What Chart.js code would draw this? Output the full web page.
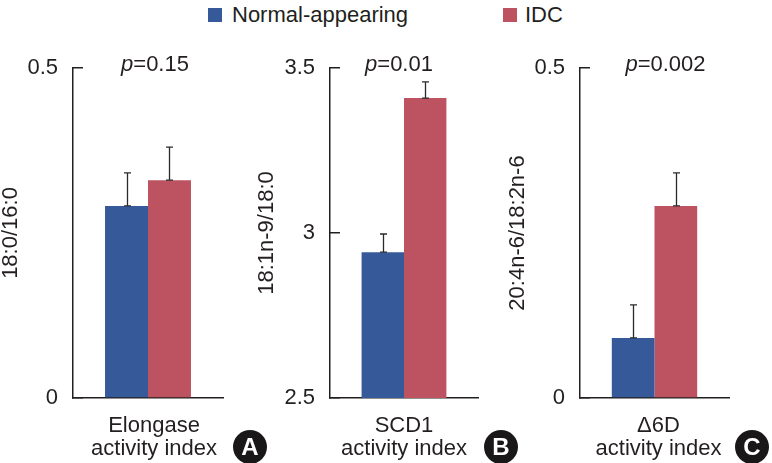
<!DOCTYPE html>
<html><head><meta charset="utf-8">
<script src="https://cdn.jsdelivr.net/npm/chart.js@4.4.1/dist/chart.umd.min.js"></script>
<style>
html,body{margin:0;padding:0;background:#fff;}
#wrap{position:relative;width:772px;height:463px;overflow:hidden;background:#fff;
 font-family:"Liberation Sans",Arial,sans-serif;color:#231f20;}
canvas{position:absolute;top:0;}
.sw{position:absolute;width:14px;height:14px;top:8px;}
.lt{position:absolute;top:0;font-size:22px;line-height:29px;white-space:nowrap;}
</style></head><body>
<div id="wrap">
  <div class="sw" id="sw0"></div><div class="lt" id="lt0"></div>
  <div class="sw" id="sw1"></div><div class="lt" id="lt1"></div>
  <canvas id="c0" width="275" height="463" style="left:0px"></canvas>
  <canvas id="c1" width="270" height="463" style="left:250px"></canvas>
  <canvas id="c2" width="267" height="463" style="left:505px"></canvas>
</div>
<script>
// ---- data ----
const seriesNames = ["Normal-appearing", "IDC"];
const categories = [["Elongase", "activity index"], ["SCD1", "activity index"], ["\u03946D", "activity index"]];
const yTitles = ["18:0/16:0", "18:1n-9/18:0", "20:4n-6/18:2n-6"];
const normalValues = [0.291, 2.942, 0.091];
const idcValues = [0.330, 3.409, 0.291];
const normalErrors = [0.050, 0.055, 0.050];
const idcErrors = [0.050, 0.049, 0.050];
const pValues = ["0.15", "0.01", "0.002"];
const panelLetters = ["A", "B", "C"];
const yTickValues = [[0, 0.5], [2.5, 3, 3.5], [0, 0.5]];

// ---- style / layout ----
const COLORS = ["#36599a", "#bd5261"];
const TEXT = "#231f20";
const AXIS = "#231f20";
const FONT = '"Liberation Sans",Arial,sans-serif';
const FS = 22;
const layouts = [
  {yWidth: 73, padRight: 52, titlePad: 0, pDx: 7, circleDx: 27, labelOffset: 6},
  {yWidth: 80, padRight: 42, titlePad: 6, pDx: -5, circleDx: 23, labelOffset: 0},
  {yWidth: 75, padRight: 43, titlePad: 2, pDx: 11, circleDx: 23, labelOffset: 4}
];

// legend (HTML)
document.getElementById("sw0").style.cssText += "left:208px;background:" + COLORS[0];
document.getElementById("sw1").style.cssText += "left:503px;background:" + COLORS[1];
const lt0 = document.getElementById("lt0"); lt0.textContent = seriesNames[0]; lt0.style.left = "232px";
const lt1 = document.getElementById("lt1"); lt1.textContent = seriesNames[1]; lt1.style.left = "525px";

Chart.defaults.font.family = FONT;
Chart.defaults.color = TEXT;

const errorBarPlugin = {
  id: "errorBars",
  afterDatasetsDraw(chart) {
    const ctx = chart.ctx, ys = chart.scales.y;
    ctx.save();
    ctx.strokeStyle = "#2a2a2a";
    ctx.lineWidth = 1.3;
    chart.data.datasets.forEach((ds, di) => {
      const meta = chart.getDatasetMeta(di);
      meta.data.forEach((bar, j) => {
        const top = ys.getPixelForValue(ds.data[j] + ds.errors[j]);
        const x = Math.round(bar.x) + 0.5;
        ctx.beginPath();
        ctx.moveTo(x, bar.y); ctx.lineTo(x, top);
        ctx.moveTo(x - 3.5, top); ctx.lineTo(x + 3.5, top);
        ctx.moveTo(x - 3.5, bar.y); ctx.lineTo(x + 3.5, bar.y);
        ctx.stroke();
      });
    });
    ctx.restore();
  }
};

const decorPlugin = {
  id: "decor",
  afterDraw(chart, args, opts) {
    const ctx = chart.ctx, a = chart.chartArea;
    ctx.save();
    // p-value
    const cx = (a.left + a.right) / 2 + opts.pDx;
    ctx.textBaseline = "alphabetic";
    ctx.fillStyle = TEXT;
    ctx.font = "italic " + FS + "px " + FONT;
    const wp = ctx.measureText("p").width;
    ctx.font = FS + "px " + FONT;
    const rest = "=" + opts.p;
    const wr = ctx.measureText(rest).width;
    const x0 = cx - (wp + wr) / 2;
    ctx.font = "italic " + FS + "px " + FONT;
    ctx.textAlign = "left";
    ctx.fillText("p", x0, 71);
    ctx.font = FS + "px " + FONT;
    ctx.fillText(rest, x0 + wp, 71);
    // circled letter
    const lx = a.right + opts.circleDx, ly = 447;
    ctx.beginPath();
    ctx.arc(lx, ly, 17, 0, Math.PI * 2);
    ctx.fillStyle = "#1a1718";
    ctx.fill();
    ctx.fillStyle = "#ffffff";
    ctx.font = "bold 24px " + FONT;
    ctx.textAlign = "center";
    ctx.textBaseline = "middle";
    ctx.fillText(opts.letter, lx, ly + 1);
    ctx.restore();
  }
};

for (let i = 0; i < 3; i++) {
  const L = layouts[i];
  const ticks = yTickValues[i];
  new Chart(document.getElementById("c" + i), {
    type: "bar",
    data: {
      labels: [categories[i]],
      datasets: [
        {label: seriesNames[0], data: [normalValues[i]], errors: [normalErrors[i]], backgroundColor: COLORS[0], borderWidth: 0},
        {label: seriesNames[1], data: [idcValues[i]], errors: [idcErrors[i]], backgroundColor: COLORS[1], borderWidth: 0}
      ]
    },
    options: {
      responsive: false,
      animation: false,
      devicePixelRatio: 1,
      categoryPercentage: 0.573,
      barPercentage: 1.0,
      layout: {padding: {top: 68, bottom: 0, left: 0, right: L.padRight}},
      plugins: {
        legend: {display: false},
        tooltip: {enabled: false},
        decor: {p: pValues[i], letter: panelLetters[i], pDx: L.pDx, circleDx: L.circleDx}
      },
      scales: {
        x: {
          type: "category",
          afterFit: s => { s.height = 65; },
          grid: {display: false, drawTicks: false},
          border: {display: true, color: AXIS, width: 1.5},
          ticks: {padding: 16, maxRotation: 0, autoSkip: false, labelOffset: L.labelOffset,
                  color: TEXT, font: {size: FS, lineHeight: 1.05}}
        },
        y: {
          min: ticks[0], max: ticks[ticks.length - 1],
          afterBuildTicks: s => { s.ticks = ticks.map(v => ({value: v})); },
          afterFit: s => { s.width = L.yWidth; },
          border: {display: true, color: AXIS, width: 1.5},
          grid: {drawOnChartArea: false, drawTicks: true, tickLength: -10, color: AXIS, lineWidth: 1.5},
          ticks: {padding: 25, color: TEXT, font: {size: FS}, callback: v => String(v)},
          title: {display: true, text: yTitles[i], color: TEXT, font: {size: FS, lineHeight: 1.0},
                  padding: {top: L.titlePad, bottom: 0}}
        }
      }
    },
    plugins: [errorBarPlugin, decorPlugin]
  });
}
</script>
</body></html>
